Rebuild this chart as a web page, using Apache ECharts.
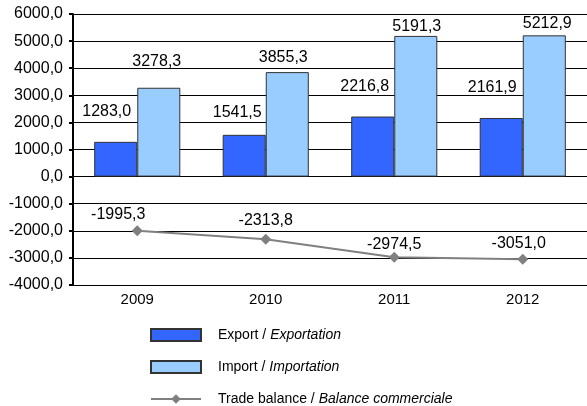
<!DOCTYPE html>
<html>
<head>
<meta charset="utf-8">
<script src="https://cdn.jsdelivr.net/npm/echarts@6/dist/echarts.min.js"></script>
<style>
  html, body { margin: 0; padding: 0; background: #fff; }
  #chart { width: 587px; height: 406px; }
</style>
</head>
<body>
<div id="chart"></div>
<script>
const years = ['2009', '2010', '2011', '2012'];
const exportValues = [1283.0, 1541.5, 2216.8, 2161.9];
const importValues = [3278.3, 3855.3, 5191.3, 5212.9];
const balanceValues = [-1995.3, -2313.8, -2974.5, -3051.0];

// label nudges [dx, distance] copied from where the original placed its labels
const exportLabelPos = [[-9, 22], [-7, 14], [-8, 22], [-9, 22]];
const importLabelPos = [[-2, 18], [-4, 7], [1, 1], [3, 4]];
const balanceLabelPos = [[-19, 3], [0, 5], [0, -1], [-4, 2]];

const fmt = (v) => Number(v).toFixed(1).replace('.', ',');
const font = 'Liberation Sans, Arial, sans-serif';

function withLabels(values, pos) {
  return values.map((v, i) => ({
    value: v,
    label: { offset: [pos[i][0], 0], distance: pos[i][1] }
  }));
}

const chart = echarts.init(document.getElementById('chart'));

const options = {
  animation: false,
  textStyle: { fontFamily: font },
  grid: { left: 73, right: -2, top: 14, bottom: 121 },
  legend: {
    orient: 'vertical',
    left: 150,
    top: 328,
    padding: 0,
    height: 90,
    itemWidth: 50,
    itemHeight: 12,
    itemGap: 18,
    textStyle: {
      fontSize: 14,
      color: '#000',
      padding: [0, 0, 0, 12],
      rich: {
        n: { fontSize: 14, lineHeight: 14, color: '#000', fontFamily: font },
        i: { fontSize: 14, lineHeight: 14, color: '#000', fontFamily: font, fontStyle: 'italic' }
      }
    },
    formatter: function (name) {
      const parts = name.split(' / ');
      return '{n|' + parts[0] + ' / }{i|' + parts[1] + '}';
    },
    data: [
      { name: 'Export / Exportation', icon: 'rect' },
      { name: 'Import / Importation', icon: 'rect' },
      { name: 'Trade balance / Balance commerciale' }
    ]
  },
  xAxis: {
    type: 'category',
    data: years,
    axisLine: { onZero: false, show: false },
    axisTick: { show: false },
    axisLabel: { color: '#000', fontSize: 15, margin: 7 }
  },
  yAxis: {
    type: 'value',
    min: -4000,
    max: 6000,
    interval: 1000,
    axisLine: { show: true, lineStyle: { color: '#000', width: 2 } },
    axisTick: { show: true, length: 4, lineStyle: { color: '#000', width: 2 } },
    axisLabel: { color: '#000', fontSize: 16, margin: 10, formatter: fmt },
    splitLine: { lineStyle: { color: '#000', width: 1 } }
  },
  series: [
    {
      name: 'Export / Exportation',
      type: 'bar',
      data: withLabels(exportValues, exportLabelPos),
      barGap: '0%',
      barCategoryGap: '33%',
      itemStyle: { color: '#3366FF', borderColor: '#333', borderWidth: 1 },
      label: {
        show: true, position: 'top',
        color: '#000', fontSize: 16, formatter: (p) => fmt(p.value)
      }
    },
    {
      name: 'Import / Importation',
      type: 'bar',
      data: withLabels(importValues, importLabelPos),
      itemStyle: { color: '#99CCFF', borderColor: '#333', borderWidth: 1 },
      label: {
        show: true, position: 'top',
        color: '#000', fontSize: 16, formatter: (p) => fmt(p.value)
      }
    },
    {
      name: 'Trade balance / Balance commerciale',
      type: 'line',
      data: withLabels(balanceValues, balanceLabelPos),
      symbol: 'diamond',
      symbolSize: 11,
      lineStyle: { color: '#808080', width: 2 },
      itemStyle: { color: '#808080' },
      label: {
        show: true, position: 'top',
        color: '#000', fontSize: 16, formatter: (p) => fmt(p.value)
      }
    }
  ]
};

chart.setOption(options);
</script>
</body>
</html>
